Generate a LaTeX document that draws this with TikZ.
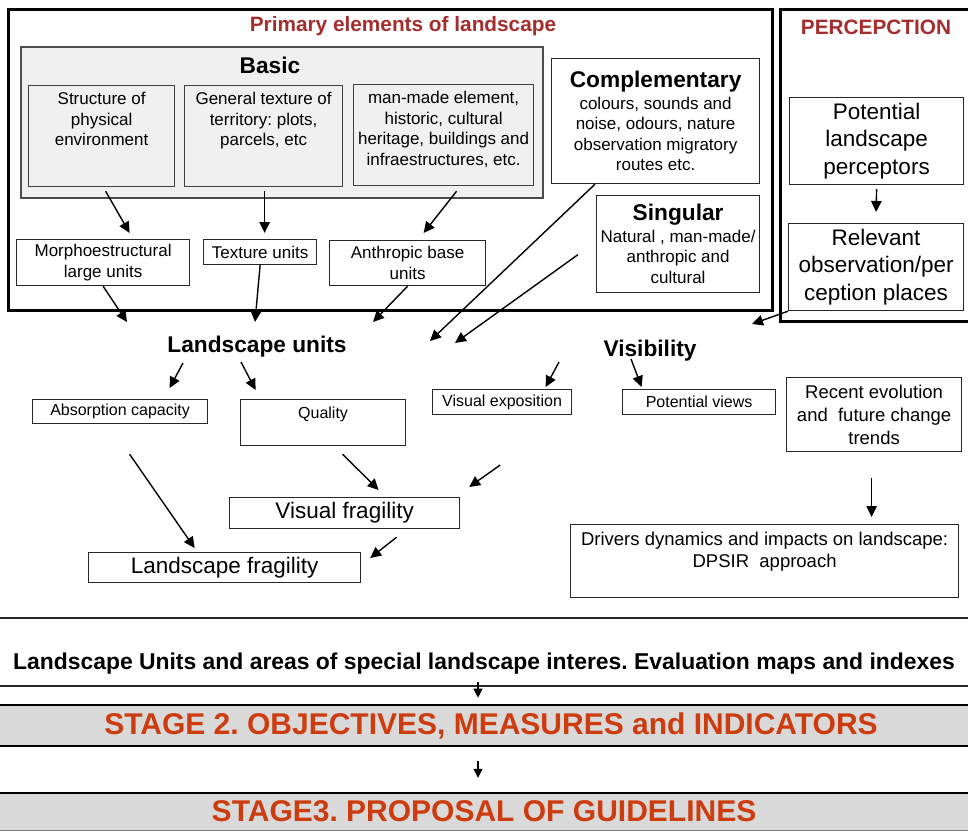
\documentclass[tikz,border=0pt]{standalone}
\usepackage{fontspec}
\setmainfont{Liberation Sans}
\usetikzlibrary{arrows.meta, calc}

\definecolor{titlered}{RGB}{165,45,45}
\definecolor{stageorange}{RGB}{205,60,15}
\definecolor{basicgray}{RGB}{240,240,240}
\definecolor{bandgray}{RGB}{217,217,217}

\frenchspacing
\newcommand{\fsz}[2]{\fontsize{#1}{#2}\selectfont}
% text pinned to the top of a fixed-size box
\newcommand{\topfill}[3]{\parbox[c][#2][t]{#1}{\centering\vspace*{7pt}#3}}

\begin{document}
\begin{tikzpicture}[x=1pt, y=-1pt,
    box/.style={draw=black!85, line width=1.2pt, inner sep=0pt, anchor=north west},
    cbox/.style={box, align=center},
    graybox/.style={box, fill=basicgray, draw=black!75},
    outerframe/.style={draw=black, line width=3pt},
    titletext/.style={text=titlered, font=\fsz{20.8}{24}\bfseries},
    heading/.style={font=\fsz{22.7}{26}\bfseries},
    band/.style={fill=bandgray, inner sep=0pt, minimum width=1000pt,
        text=stageorange, font=\fsz{30}{34}\bfseries},
    arr/.style={-{Triangle[length=11pt,width=10.5pt]}, line width=1.4pt},
    smallarr/.style={-{Triangle[length=9pt,width=9pt]}, line width=1.2pt}]

    \useasboundingbox (0,0) rectangle (968,832);

    % Outer frames and their titles
    \draw[outerframe] (8,10) rectangle (772,310);
    \draw[outerframe] (780,10) rectangle (990,321);
    \node[titletext] (primtitle) at (403,26) {Primary elements of landscape};
    \node[titletext] (perctitle) at (876,27.5) {PERCEPCTION};

    % Basic elements
    \node[graybox, line width=1.8pt, draw=black!70, minimum width=522pt, minimum height=151pt] (basic) at (20,46) {};
    \node[heading] (basictitle) at (270,65) {Basic};
    \node[graybox, font=\fsz{17}{20.5}] (struct) at (28,85)
        {\topfill{146pt}{101pt}{Structure of\\physical\\environment}};
    \node[graybox, font=\fsz{17}{20.5}] (texture) at (184,85)
        {\topfill{158pt}{101pt}{General texture of\\territory: plots,\\parcels, etc}};
    \node[graybox, font=\fsz{17}{20.5}] (manmade) at (353,84)
        {\topfill{180pt}{101pt}{man-made element,\\historic, cultural\\heritage, buildings and\\infraestructures, etc.}};

    % Complementary and singular elements
    \node[cbox, font=\fsz{17}{20.5}, minimum width=208pt, minimum height=125pt] (compl) at (551,58)
        {{\fsz{22.7}{26}\bfseries Complementary}\\[1pt]colours, sounds and\\noise, odours, nature\\observation migratory\\routes etc.};
    \node[cbox, font=\fsz{17}{20.5}, minimum width=163pt, minimum height=97pt] (singular) at (596,195)
        {{\fsz{22.7}{26}\bfseries Singular}\\[1pt]Natural , man-made/\\anthropic and\\cultural};

    % Perception
    \node[cbox, font=\fsz{22.5}{27.5}, minimum width=174pt, minimum height=87pt] (potential) at (789,97)
        {Potential\\landscape\\perceptors};
    \node[cbox, font=\fsz{22.5}{27.5}, minimum width=175pt, minimum height=87pt] (relevant) at (788,223)
        {Relevant\\observation/per\\ception places};

    % Base units
    \node[cbox, font=\fsz{17}{20.5}, minimum width=173pt, minimum height=46pt] (morpho) at (16,239)
        {Morphoestructural\\large units};
    \node[cbox, font=\fsz{17}{20.5}, minimum width=113pt, minimum height=25pt] (texunits) at (203,239)
        {Texture units};
    \node[cbox, font=\fsz{17}{20.5}, minimum width=156pt, minimum height=45pt] (anthropic) at (329,240)
        {Anthropic base\\units};

    % Landscape units and visibility
    \node[heading] (lu) at (257,347) {Landscape units};
    \node[heading] (vis) at (650,351) {Visibility};

    \node[cbox, font=\fsz{16}{19}, minimum width=175pt, minimum height=24pt] (absorption) at (32,399)
        {Absorption capacity};
    \node[box, font=\fsz{16}{19}] (quality) at (240,399)
        {\topfill{165pt}{46pt}{Quality}};
    \node[cbox, font=\fsz{16}{19}, minimum width=139pt, minimum height=25pt] (visexp) at (432,389)
        {Visual exposition};
    \node[cbox, font=\fsz{16}{19}, minimum width=153pt, minimum height=25pt] (potviews) at (622,389)
        {Potential views};
    \node[cbox, font=\fsz{18.5}{23}, minimum width=175pt, minimum height=74pt] (recent) at (786,377)
        {Recent evolution\\and\ \ future change\\trends};

    \node[cbox, font=\fsz{22.5}{26}, minimum width=230pt, minimum height=31pt] (visfrag) at (229,497)
        {Visual fragility};
    \node[cbox, font=\fsz{22.5}{26}, minimum width=272pt, minimum height=30pt] (landfrag) at (88,552)
        {Landscape fragility};
    \node[box, font=\fsz{18.5}{22.5}] (drivers) at (570,524)
        {\topfill{388pt}{73pt}{Drivers dynamics and impacts on landscape:\\DPSIR\ \ approach}};

    % Evaluation row and stages
    \draw[line width=1.4pt, black!85] (0,618) -- (968,618);
    \draw[line width=1.4pt, black!85] (0,686) -- (968,686);
    \node[font=\fsz{22.9}{26}\bfseries] (eval) at (484,664)
        {Landscape Units and areas of special landscape interes. Evaluation maps and indexes};

    \node[band, draw=black, line width=2.6pt, minimum height=41pt] (stage2) at (491,725.5)
        {STAGE 2. OBJECTIVES, MEASURES and INDICATORS};
    \node[band, minimum height=37pt] (stage3) at (484,811.5)
        {STAGE3. PROPOSAL OF GUIDELINES};
    \draw[line width=2.6pt] (stage3.north west) -- (stage3.north east);
    \draw[line width=1.2pt, gray] (stage3.south west) -- (stage3.south east);

    % Arrows
    \draw[arr] ($(struct.south)+(4,4)$) -- ($(morpho.north)+(26.5,-6)$);
    \draw[arr] ($(texture.south)+(1,4)$) -- ($(texunits.north)+(4.5,-6)$);
    \draw[arr] ($(manmade.south)+(13,5)$) -- ($(anthropic.north)+(16,-7)$);
    \draw[arr] (morpho.south) -- ($(lu.center)+(-130,-25)$);
    \draw[arr] (texunits.south) -- ($(lu.center)+(-2,-25)$);
    \draw[arr] (anthropic.south) -- ($(lu.center)+(116,-25)$);
    \draw[arr] ($(compl.south west)+(44,0)$) -- ($(lu.center)+(173,-6)$);
    \draw[arr] ($(singular.west)+(-18,10.5)$) -- ($(lu.center)+(198,-4)$);
    \draw[arr] (relevant.south west) -- ($(vis.center)+(102,-27)$);
    \draw[arr] ($(potential.south)+(0,4)$) -- ($(relevant.north)+(0,-11)$);

    \draw[arr] ($(lu.center)+(-74,16)$) -- ($(absorption.north)+(49.5,-11)$);
    \draw[arr] ($(lu.center)+(-16,15)$) -- ($(quality.north)+(-67.5,-9)$);
    \draw[arr] ($(vis.center)+(-91,11)$) -- ($(visexp.north)+(43.5,-2)$);
    \draw[arr] ($(vis.center)+(-19,8)$) -- ($(potviews.north)+(-57.5,-2)$);

    \draw[arr] ($(absorption.south)+(9.5,30)$) -- ($(landfrag.north)+(-30,-4)$);
    \draw[arr] ($(quality.south)+(19.5,8)$) -- ($(visfrag.north)+(34,-7)$);
    \draw[arr] ($(visfrag.north east)+(40,-32)$) -- ($(visfrag.north east)+(9,-10)$);
    \draw[arr] ($(visfrag.south)+(52,8)$) -- ($(landfrag.north east)+(9,6)$);
    \draw[arr] ($(recent.south)+(-2.5,26)$) -- ($(drivers.north)+(107,-7)$);

    \draw[smallarr] ($(stage2.north)+(-13,-22)$) -- ($(stage2.north)+(-13,-6)$);
    \draw[smallarr] ($(stage2.south)+(-13,14)$) -- ($(stage3.north)+(-6,-15)$);
\end{tikzpicture}
\end{document}
